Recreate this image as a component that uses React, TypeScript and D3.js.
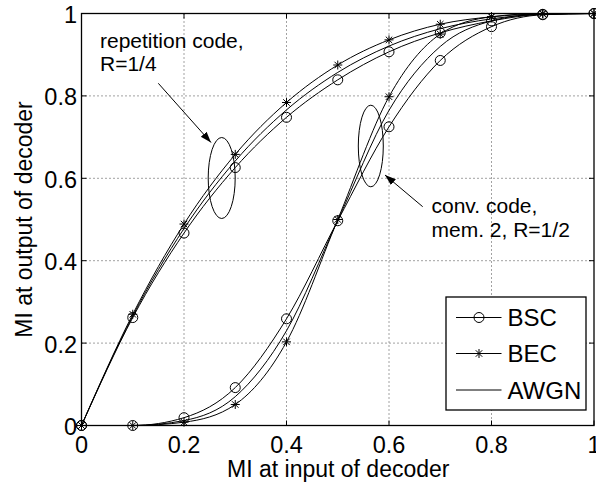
import React from "react";
import * as d3 from "d3";

const xs = [0, 0.1, 0.2, 0.3, 0.4, 0.5, 0.6, 0.7, 0.8, 0.9, 1];
const repBSC = [0, 0.262, 0.467, 0.626, 0.748, 0.839, 0.907, 0.953, 0.982, 0.998, 1];
const repBEC = [0, 0.27, 0.489, 0.658, 0.784, 0.875, 0.936, 0.974, 0.992, 0.999, 1];
const repAWGN = [0, 0.266, 0.478, 0.642, 0.766, 0.857, 0.921, 0.963, 0.987, 0.998, 1];
const convBSC = [0, 0, 0.019, 0.092, 0.259, 0.497, 0.725, 0.886, 0.968, 0.997, 1];
const convBEC = [0, 0, 0.008, 0.051, 0.203, 0.5, 0.798, 0.95, 0.992, 1, 1];
const convAWGN = [0, 0, 0.012, 0.07, 0.23, 0.498, 0.765, 0.92, 0.982, 0.999, 1];

const xTicks = [0, 0.2, 0.4, 0.6, 0.8, 1];
const yTicks = [0, 0.2, 0.4, 0.6, 0.8, 1];
const tickLabel = (v: number) => (v === 0 || v === 1 ? String(v) : v.toFixed(1));

const legendItems = [
  { name: "BSC", marker: "circle" },
  { name: "BEC", marker: "star" },
  { name: "AWGN", marker: "none" },
];

const W = 596;
const H = 484;
const L = 81.5, R = 594, T = 13.5, B = 425.5;
const FONT = "'Liberation Sans', Arial, Helvetica, sans-serif";

function Circle({ x, y }: { x: number; y: number }) {
  return <circle cx={x} cy={y} r={5} fill="none" stroke="#000" strokeWidth={1} />;
}
function Star({ x, y }: { x: number; y: number }) {
  const s = 4.5;
  const d = s * 0.72;
  return (
    <g stroke="#000" strokeWidth={1}>
      <line x1={x - s} y1={y} x2={x + s} y2={y} />
      <line x1={x} y1={y - s} x2={x} y2={y + s} />
      <line x1={x - d} y1={y - d} x2={x + d} y2={y + d} />
      <line x1={x - d} y1={y + d} x2={x + d} y2={y - d} />
    </g>
  );
}

export default function App() {
  const x = d3.scaleLinear().domain([0, 1]).range([L, R]);
  const y = d3.scaleLinear().domain([0, 1]).range([B, T]);
  const line = d3
    .line<[number, number]>()
    .x((d) => x(d[0]))
    .y((d) => y(d[1]))
    .curve(d3.curveMonotoneX);
  const pts = (arr: number[]) => xs.map((v, i) => [v, arr[i]] as [number, number]);

  const series = [
    { data: repBSC, marker: "circle" },
    { data: repBEC, marker: "star" },
    { data: repAWGN, marker: "none" },
    { data: convBSC, marker: "circle" },
    { data: convBEC, marker: "star" },
    { data: convAWGN, marker: "none" },
  ];

  const lgX = 446, lgY = 297, lgW = 140, lgH = 113;
  const lgRows = [317.5, 353.5, 390];

  return (
    <svg width={W} height={H} style={{ position: "absolute", left: 0, top: 0, background: "#fff" }}>
      <defs>
        <marker id="ah" viewBox="0 0 10 10" refX="10" refY="5" markerWidth="11" markerHeight="11" markerUnits="userSpaceOnUse" orient="auto">
          <path d="M0,1.5 L10,5 L0,8.5 Z" fill="#000" />
        </marker>
      </defs>
      <rect x={0} y={0} width={W} height={H} fill="#fff" />
      {/* grid */}
      <g stroke="#444" strokeWidth={1} strokeDasharray="1 3">
        {xTicks.slice(1, -1).map((t) => (
          <line key={"gx" + t} x1={x(t)} x2={x(t)} y1={T} y2={B} />
        ))}
        {yTicks.slice(1, -1).map((t) => (
          <line key={"gy" + t} x1={L} x2={R} y1={y(t)} y2={y(t)} />
        ))}
      </g>
      {/* ticks */}
      <g stroke="#000" strokeWidth={1}>
        {xTicks.map((t) => (
          <g key={"tx" + t}>
            <line x1={x(t)} x2={x(t)} y1={B} y2={B - 5} />
            <line x1={x(t)} x2={x(t)} y1={T} y2={T + 5} />
          </g>
        ))}
        {yTicks.map((t) => (
          <g key={"ty" + t}>
            <line x1={L} x2={L + 5} y1={y(t)} y2={y(t)} />
            <line x1={R} x2={R - 5} y1={y(t)} y2={y(t)} />
          </g>
        ))}
      </g>
      {/* curves */}
      {series.map((s, i) => (
        <path key={"l" + i} d={line(pts(s.data)) || ""} fill="none" stroke="#000" strokeWidth={1} />
      ))}
      {series.map((s, i) =>
        s.marker === "none"
          ? null
          : xs.map((v, j) =>
              s.marker === "circle" ? (
                <Circle key={"m" + i + "-" + j} x={x(v)} y={y(s.data[j])} />
              ) : (
                <Star key={"m" + i + "-" + j} x={x(v)} y={y(s.data[j])} />
              )
            )
      )}
      {/* box */}
      <rect x={L} y={T} width={R - L} height={B - T} fill="none" stroke="#000" strokeWidth={1.3} />
      {/* tick labels */}
      <g fontFamily={FONT} fontSize={23.5} fill="#000">
        {xTicks.map((t) => (
          <text key={"xl" + t} x={x(t)} y={453} textAnchor="middle">
            {tickLabel(t)}
          </text>
        ))}
        {yTicks.map((t) => (
          <text key={"yl" + t} x={77} y={y(t) + 9.5} textAnchor="end">
            {tickLabel(t)}
          </text>
        ))}
      </g>
      {/* axis labels */}
      <text x={(L + R) / 2 + 0.5} y={477} textAnchor="middle" fontFamily={FONT} fontSize={23}>
        MI at input of decoder
      </text>
      <text transform={`translate(32,${(T + B) / 2}) rotate(-90)`} textAnchor="middle" fontFamily={FONT} fontSize={23}>
        MI at output of decoder
      </text>
      {/* annotations */}
      <ellipse cx={221.7} cy={178} rx={13.5} ry={40.5} fill="none" stroke="#000" strokeWidth={1} />
      <ellipse cx={370.8} cy={146} rx={12.5} ry={40.8} fill="none" stroke="#000" strokeWidth={1} />
      <line x1={158.3} y1={83.3} x2={211} y2={142.5} stroke="#000" strokeWidth={1} markerEnd="url(#ah)" />
      <line x1={422.7} y1={206.7} x2={385} y2={175} stroke="#000" strokeWidth={1} markerEnd="url(#ah)" />
      <g fontFamily={FONT} fontSize={21} fill="#000">
        <text x={100} y={47.5}>repetition code,</text>
        <text x={100} y={71}>R=1/4</text>
        <text x={431.5} y={213}>conv. code,</text>
        <text x={431.5} y={236.5}>mem. 2, R=1/2</text>
      </g>
      {/* legend */}
      <rect x={lgX} y={lgY} width={lgW} height={lgH} fill="#fff" stroke="#000" strokeWidth={1.3} />
      {legendItems.map((it, i) => (
        <g key={it.name}>
          <line x1={456} x2={501.5} y1={lgRows[i]} y2={lgRows[i]} stroke="#000" strokeWidth={1} />
          {it.marker === "circle" ? <Circle x={479} y={lgRows[i]} /> : null}
          {it.marker === "star" ? <Star x={479} y={lgRows[i]} /> : null}
          <text x={507.5} y={lgRows[i] + 8.5} fontFamily={FONT} fontSize={24}>
            {it.name}
          </text>
        </g>
      ))}
    </svg>
  );
}
